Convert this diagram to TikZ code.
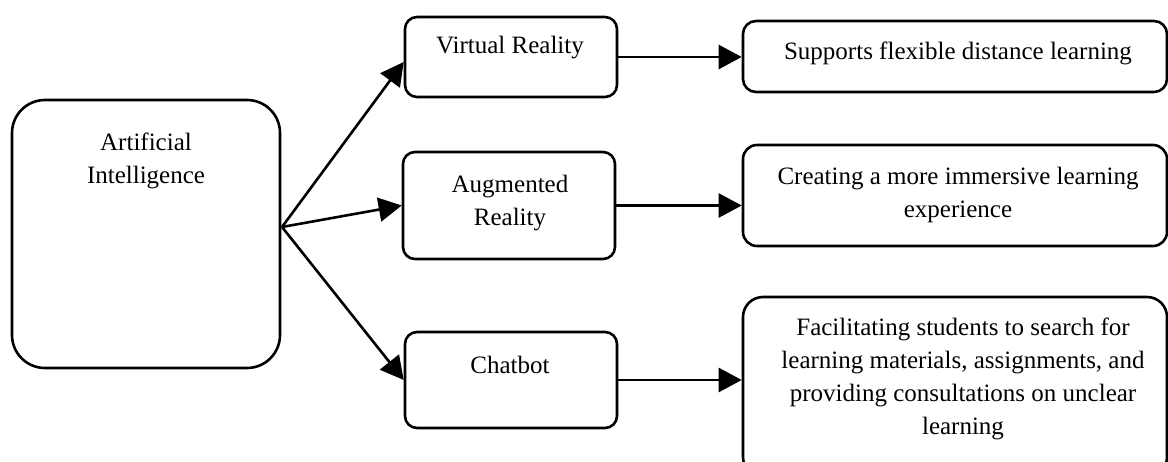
\documentclass[tikz,border=0pt]{standalone}
\usepackage{fontspec}
\setmainfont{Liberation Serif}
\usetikzlibrary{arrows.meta}

\begin{document}
\begin{tikzpicture}[x=1pt, y=-1pt,
    box/.style={draw, line width=2.6pt, inner sep=0pt},
    txt/.style={inner sep=0pt, align=center, font=\fontsize{25}{33}\selectfont},
    arrow/.style={line width=2.6pt, -{Triangle[length=23pt, width=24pt]}}]
    % 画像の大きさ
    \useasboundingbox (0,0) rectangle (1168,462);
    \clip (0,0) rectangle (1168,462);

    % 左の大きな箱
    \node[box, rounded corners=33pt, minimum width=268pt, minimum height=268pt] (ai) at (146,234) {};
    \node[txt] (aitxt) at (146,161) {Artificial\\Intelligence};

    % 中央の箱
    \node[box, rounded corners=12pt, minimum width=212pt, minimum height=80pt] (vr) at (511,57) {};
    \node[box, rounded corners=12pt, minimum width=212pt, minimum height=107pt] (ar) at (509,205.5) {};
    \node[box, rounded corners=12pt, minimum width=212pt, minimum height=96pt] (cb) at (511,380) {};
    \node[txt] (vrtxt) at (510,48) {Virtual Reality};
    \node[txt] (artxt) at (510,203) {Augmented\\Reality};
    \node[txt] (cbtxt) at (510,365) {Chatbot};

    % 右の箱
    \node[box, rounded corners=13pt, minimum width=424pt, minimum height=71pt] (r1) at (955,56.5) {};
    \node[box, rounded corners=14pt, minimum width=424pt, minimum height=101pt] (r2) at (955,195.5) {};
    \node[box, rounded corners=20pt, minimum width=424pt, minimum height=180pt] (r3) at (955,387) {};
    \node[txt] (r1txt) at (958,53) {Supports flexible distance learning};
    \node[txt] (r2txt) at (958,195) {Creating a more immersive learning\\experience};
    \node[txt] (r3txt) at (963,379) {Facilitating students to search for\\learning materials, assignments, and\\providing consultations on unclear\\learning};

    % 矢印
    \coordinate (fork) at (282,227);
    \draw[arrow] (fork) -- ([yshift=-5pt]vr.west);
    \foreach \t in {ar,cb} {
        \draw[arrow] (fork) -- (\t.west);
    }
    \foreach \s/\t in {vr/r1, ar/r2, cb/r3} {
        \draw[arrow] (\s.east) -- (\s.east -| \t.west);
    }

\end{tikzpicture}
\end{document}
